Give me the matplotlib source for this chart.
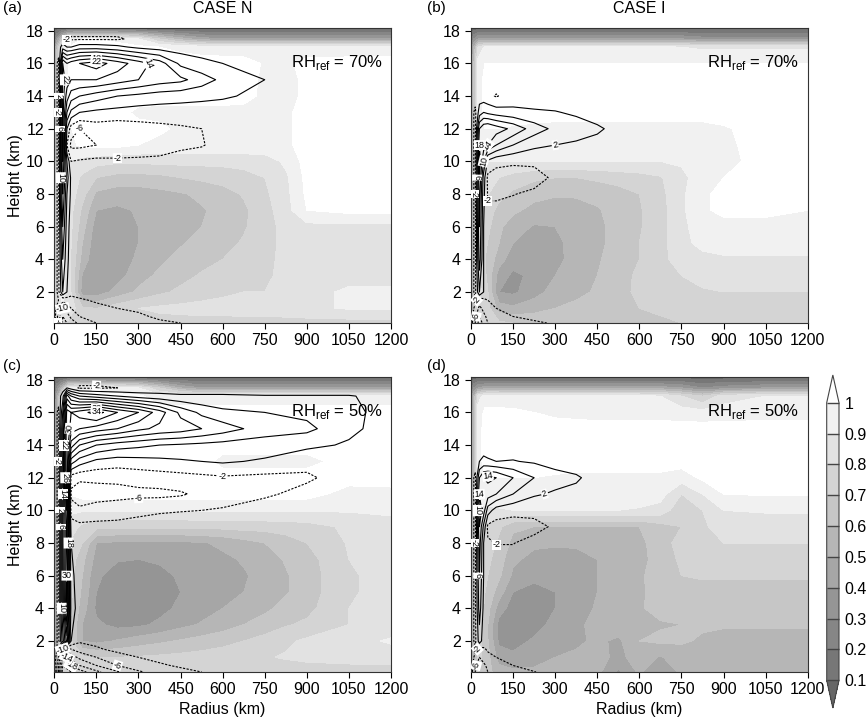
import numpy as np
import matplotlib
matplotlib.use('Agg')
import matplotlib.pyplot as plt

plt.rcParams['font.family'] = ['Liberation Sans', 'DejaVu Sans']
plt.rcParams['lines.dashed_pattern'] = [2.0, 1.3]

# ---- relative humidity (percent), rows = heights, cols = radii ----
r_rh = [0, 10, 25, 50, 100, 150, 225, 300, 375, 450, 525, 600, 675, 750, 825, 900, 1050, 1200]
z_rh = [0.1, 1, 2, 3, 4, 5, 6, 7, 8, 9, 10, 11, 12, 13, 14, 15, 16, 17, 17.5, 18.2]

rh_a = [
    [65, 72, 78, 78, 76, 76, 76, 76, 76, 76, 76, 76, 76, 76, 76, 76, 76, 76],
    [65, 75, 90, 88, 72, 70, 76, 80, 82, 83, 84, 84, 85, 85, 86, 88, 91, 91],
    [65, 75, 92, 88, 45, 44, 54, 62, 68, 72, 75, 78, 80, 80, 84, 88, 91, 91],
    [62, 75, 92, 86, 49, 42, 46, 56, 62, 67, 71, 74, 76, 78, 83, 87, 88, 88],
    [60, 75, 92, 85, 56, 42, 44, 52, 58, 63, 67, 70, 73, 77, 83, 86, 86, 86],
    [60, 75, 92, 85, 60, 43, 44, 50, 55, 59, 63, 67, 71, 76, 83, 86, 86, 86],
    [60, 75, 92, 86, 64, 45, 45, 50, 54, 57, 60, 64, 69, 75, 84, 87, 87, 87],
    [60, 75, 92, 86, 68, 50, 48, 51, 54, 56, 59, 63, 68, 76, 86, 100, 103, 103],
    [55, 75, 92, 87, 74, 58, 55, 55, 57, 59, 62, 66, 71, 78, 87, 102, 104, 104],
    [50, 75, 92, 88, 78, 70, 66, 66, 67, 70, 72, 74, 76, 80, 88, 103, 104, 104],
    [45, 70, 92, 90, 86, 84, 82, 82, 83, 83, 83, 83, 84, 85, 92, 104, 104, 104],
    [45, 65, 92, 97, 102, 103, 103, 100, 97, 97, 97, 97, 97, 97, 98, 104, 104, 104],
    [45, 65, 92, 99, 103, 104, 104, 103, 102, 98, 97, 97, 97, 97, 98, 104, 104, 104],
    [45, 65, 92, 100, 103, 103, 103, 98, 97, 97, 97, 97, 97, 97, 98, 104, 104, 104],
    [45, 65, 92, 100, 104, 104, 104, 104, 104, 104, 104, 104, 103, 98, 97, 102, 104, 104],
    [45, 65, 92, 100, 104, 104, 104, 104, 104, 104, 104, 104, 104, 98, 97, 102, 104, 104],
    [45, 65, 92, 100, 104, 104, 104, 104, 104, 104, 104, 104, 104, 99, 98, 103, 104, 104],
    [40, 60, 85, 100, 104, 104, 104, 102, 100, 98, 96, 95, 94, 94, 94, 94, 94, 94],
    [20, 35, 60, 95, 100, 100, 97, 90, 70, 55, 45, 40, 40, 40, 40, 40, 40, 40],
    [3, 3, 3, 3, 3, 3, 3, 3, 3, 3, 3, 3, 3, 3, 3, 3, 3, 3],
]

rh_b = [
    [45, 60, 75, 75, 72, 70, 68, 66, 65, 65, 66, 67, 68, 70, 72, 72, 74, 74],
    [45, 60, 80, 78, 55, 52, 56, 60, 62, 66, 68, 70, 72, 74, 75, 76, 76, 76],
    [45, 60, 82, 78, 40, 38, 46, 54, 58, 61, 67, 72, 75, 77, 79, 80, 80, 80],
    [45, 60, 82, 72, 45, 38, 42, 50, 56, 60, 66, 72, 76, 80, 83, 84, 84, 84],
    [45, 60, 82, 70, 55, 44, 42, 47, 54, 59, 64, 70, 76, 86, 88, 89, 89, 89],
    [45, 60, 82, 72, 60, 50, 46, 48, 53, 58, 63, 70, 76, 88, 92, 93, 93, 93],
    [45, 60, 82, 75, 62, 55, 49, 50, 54, 58, 63, 69, 76, 88, 94, 96, 96, 96],
    [45, 60, 82, 78, 66, 62, 57, 56, 57, 59, 64, 69, 76, 88, 98, 103, 103, 100],
    [45, 60, 82, 82, 74, 68, 63, 61, 61, 63, 66, 70, 77, 88, 98, 103, 104, 104],
    [45, 60, 85, 86, 80, 76, 72, 70, 70, 72, 74, 76, 79, 88, 94, 100, 104, 104],
    [45, 60, 88, 90, 90, 90, 90, 90, 90, 90, 90, 90, 90, 91, 93, 97, 104, 104],
    [45, 60, 90, 96, 97, 97, 96, 96, 96, 96, 96, 96, 96, 96, 96, 98, 104, 104],
    [45, 60, 92, 100, 100, 99, 98, 97, 97, 97, 97, 97, 97, 97, 97, 99, 104, 104],
    [45, 60, 95, 103, 104, 104, 104, 104, 104, 104, 104, 104, 104, 104, 104, 104, 104, 104],
    [45, 60, 95, 103, 104, 104, 104, 104, 104, 104, 104, 104, 104, 104, 104, 104, 104, 104],
    [45, 60, 95, 103, 104, 104, 104, 104, 104, 104, 104, 104, 104, 104, 104, 104, 104, 104],
    [45, 60, 95, 100, 100, 100, 100, 100, 100, 100, 100, 100, 100, 100, 100, 100, 100, 100],
    [35, 50, 80, 92, 92, 92, 92, 92, 92, 92, 92, 92, 92, 90, 88, 88, 88, 88],
    [20, 30, 40, 40, 40, 40, 40, 40, 40, 40, 40, 40, 40, 40, 35, 35, 35, 35],
    [3, 3, 3, 3, 3, 3, 3, 3, 3, 3, 3, 3, 3, 3, 3, 3, 3, 3],
]

rh_c = [
    [40, 50, 70, 74, 74, 74, 74, 74, 74, 74, 74, 74, 74, 74, 74, 74, 74, 74],
    [40, 50, 78, 80, 72, 70, 70, 71, 72, 73, 74, 75, 77, 79, 81, 83, 85, 86],
    [40, 50, 80, 76, 50, 47, 51, 55, 58, 61, 64, 67, 70, 74, 78, 82, 87, 91],
    [40, 50, 80, 74, 50, 42, 37, 38, 42, 47, 51, 55, 60, 64, 69, 72, 80, 86],
    [40, 50, 80, 74, 55, 38, 34, 34, 37, 42, 46, 50, 54, 58, 63, 67, 80, 84],
    [40, 50, 80, 75, 58, 40, 33, 33, 36, 40, 44, 47, 50, 54, 59, 65, 79, 83],
    [40, 50, 80, 76, 60, 42, 35, 35, 38, 41, 44, 46, 49, 53, 59, 65, 79, 83],
    [40, 50, 80, 78, 63, 46, 41, 40, 41, 43, 45, 48, 51, 55, 61, 66, 80, 84],
    [40, 50, 80, 80, 70, 50, 48, 48, 48, 48, 49, 52, 56, 60, 65, 70, 81, 85],
    [40, 50, 85, 85, 78, 73, 72, 72, 72, 72, 73, 73, 74, 74, 75, 76, 82, 86],
    [40, 50, 90, 92, 91, 91, 91, 91, 91, 91, 91, 91, 91, 91, 91, 91, 91, 92],
    [35, 50, 85, 100, 104, 104, 104, 104, 104, 104, 104, 104, 104, 104, 104, 104, 96, 97],
    [35, 50, 85, 100, 104, 104, 104, 104, 104, 104, 104, 104, 104, 104, 104, 104, 104, 104],
    [35, 50, 85, 100, 104, 104, 104, 104, 104, 104, 104, 97, 97, 97, 97, 97, 104, 104],
    [35, 50, 85, 100, 104, 104, 104, 104, 104, 104, 104, 104, 104, 104, 104, 104, 104, 104],
    [35, 50, 85, 100, 104, 104, 104, 104, 104, 104, 104, 104, 104, 104, 104, 104, 104, 104],
    [35, 50, 85, 100, 104, 104, 104, 104, 104, 104, 104, 104, 104, 104, 104, 104, 104, 104],
    [30, 45, 80, 100, 102, 102, 102, 102, 95, 95, 95, 95, 95, 95, 95, 95, 95, 95],
    [20, 30, 50, 90, 98, 98, 95, 90, 70, 50, 40, 40, 40, 40, 40, 40, 40, 40],
    [3, 3, 3, 3, 3, 3, 3, 3, 3, 3, 3, 3, 3, 3, 3, 3, 3, 3],
]

rh_d = [
    [40, 55, 70, 65, 55, 52, 52, 53, 54, 53, 38, 52, 39, 53, 55, 56, 56, 56],
    [40, 55, 72, 68, 45, 43, 46, 50, 52, 54, 47, 55, 49, 56, 56, 57, 57, 57],
    [40, 55, 75, 66, 38, 35, 42, 46, 48, 52, 48, 60, 62, 61, 59, 57, 57, 57],
    [40, 55, 78, 66, 36, 33, 35, 44, 48, 53, 56, 59, 59, 60, 61, 61, 61, 61],
    [40, 55, 78, 68, 45, 35, 33, 40, 46, 51, 56, 59, 63, 64, 64, 64, 64, 64],
    [40, 55, 78, 70, 55, 40, 35, 40, 45, 50, 55, 58, 65, 66, 67, 67, 67, 67],
    [40, 55, 78, 72, 62, 48, 44, 45, 47, 50, 55, 58, 66, 70, 71, 71, 71, 71],
    [40, 55, 78, 74, 65, 52, 47, 47, 48, 50, 54, 57, 64, 72, 74, 74, 74, 74],
    [40, 55, 80, 76, 68, 57, 52, 51, 51, 52, 55, 58, 64, 75, 79, 80, 80, 80],
    [40, 55, 82, 78, 72, 62, 60, 60, 60, 60, 60, 60, 66, 70, 78, 85, 85, 85],
    [40, 55, 88, 88, 89, 90, 90, 90, 90, 90, 90, 89, 86, 73, 80, 90, 91, 91],
    [40, 55, 92, 95, 96, 96, 96, 96, 96, 96, 95, 95, 94, 80, 90, 100, 101, 101],
    [40, 55, 95, 100, 100, 100, 100, 99, 98, 98, 98, 98, 98, 95, 102, 104, 104, 104],
    [40, 55, 95, 104, 104, 104, 104, 104, 104, 104, 104, 104, 104, 104, 104, 104, 104, 104],
    [40, 55, 95, 104, 104, 104, 104, 104, 104, 104, 104, 104, 104, 104, 104, 104, 104, 104],
    [40, 55, 95, 104, 104, 104, 104, 104, 104, 104, 104, 104, 104, 104, 104, 104, 104, 104],
    [40, 55, 95, 102, 102, 102, 100, 98, 97, 96, 96, 96, 96, 95, 94, 95, 96, 96],
    [35, 50, 85, 95, 95, 94, 93, 92, 92, 92, 92, 92, 90, 80, 70, 85, 90, 90],
    [20, 30, 40, 45, 45, 45, 45, 45, 45, 45, 45, 45, 45, 40, 30, 35, 40, 40],
    [3, 3, 3, 3, 3, 3, 3, 3, 3, 3, 3, 3, 3, 3, 3, 3, 3, 3],
]

# ---- radial wind (m/s), rows = heights, cols = radii ----
r_u = [0, 15, 30, 45, 60, 90, 150, 225, 300, 375, 450, 525, 600, 750, 900, 1050, 1200]
z_u = [0.1, 0.5, 1, 1.5, 2, 4, 6, 8, 9, 10, 11, 12, 13, 14, 15, 16, 17, 17.5, 18.2]

u_a = [
    [0, -8, -16, -14, -12, -9, -6, -4, -3, -2.5, -2, -1.5, -1, -0.5, 0, 0, 0],
    [0, -8, -14, -12, -9, -6, -4, -3, -2.5, -1.5, -1, -0.5, 0, 0, 0, 0, 0],
    [0, -5, -10, -8, -6, -4, -3, -2, -1.5, -0.5, 0, 0, 0, 0, 0, 0, 0],
    [0, -2, -5, -4, -3, -2.5, -1.5, -0.5, 0, 0, 0, 0, 0, 0, 0, 0, 0],
    [0, -3, 6, 2, -1, -0.5, 0, 0, 0, 0, 0, 0, 0, 0, 0, 0, 0],
    [0, -3, 10, 3, 0, 0, 0, 0, 0, 0, 0, 0, 0, 0, 0, 0, 0],
    [0, -3, 14, 4, 0, 0, 0, 0, 0, 0, 0, 0, 0, 0, 0, 0, 0],
    [0, -3, 18, 6, 1, 0, 0, 0, 0, 0, 0, 0, 0, 0, 0, 0, 0],
    [0, -3, 20, 8, 1, 0, 0, 0, 0, 0, 0, 0, 0, 0, 0, 0, 0],
    [0, -3, 22, 6, -2, -1.5, -1, -1.5, -1.5, -1.5, -1, -0.5, 0, 0, 0, 0, 0],
    [0, -3, 24, -2, -7, -7, -6, -4, -3.5, -3, -2.5, -2.2, -1, 0, 0, 0, 0],
    [0, -3, 24, 2, -4, -6, -4, -4.5, -3.5, -3, -2.5, -2, -1, 0, 0, 0, 0],
    [0, -3, 24, 10, 5, 2, 1, 0.5, 0, 0, 0, 0, 0, 0, 0, 0, 0],
    [0, -3, 24, 16, 12, 10, 8, 6, 5, 4, 3.5, 3, 2.5, 1, 0, 0, 0],
    [0, -3, 24, 20, 18, 18, 18, 16, 14, 12, 11, 8, 5, 2, 0, 0, 0],
    [0, -3, 22, 18, 20, 22, 24, 20, 16, 12, 5, 3, 2, 1, 0, 0, 0],
    [0, 0, 4, 2, 2, 4, 4, 3, 1, 0, 0, 0, 0, 0, 0, 0, 0],
    [0, 0, -1, -2.5, -2.5, -2.5, -2.5, -2.5, -1, 0, 0, 0, 0, 0, 0, 0, 0],
    [0, 0, 0, 0, 0, 0, 0, 0, 0, 0, 0, 0, 0, 0, 0, 0, 0],
]

u_b = [
    [0, -6, -12, -9, -6, -4, -3, -2.3, -1.8, -1, -0.5, 0, 0, 0, 0, 0, 0],
    [0, -5, -10, -7, -5, -3, -2, -1.5, -1, -0.5, 0, 0, 0, 0, 0, 0, 0],
    [0, -3, -7, -5, -3, -2, -1.5, -1, -0.5, 0, 0, 0, 0, 0, 0, 0, 0],
    [0, -1, -4, -3, -2, -1, -0.5, 0, 0, 0, 0, 0, 0, 0, 0, 0, 0],
    [0, -3, 6, 2, -0.5, 0, 0, 0, 0, 0, 0, 0, 0, 0, 0, 0, 0],
    [0, -3, 12, 2, 0, 0, 0, 0, 0, 0, 0, 0, 0, 0, 0, 0, 0],
    [0, -3, 14, 2, -0.5, -0.5, 0, 0, 0, 0, 0, 0, 0, 0, 0, 0, 0],
    [0, -3, 16, 3, -2.4, -2.4, -2.1, -1.5, -0.5, 0, 0, 0, 0, 0, 0, 0, 0],
    [0, -3, 18, 4, -3, -3.5, -3.5, -3, -1.5, 0, 0, 0, 0, 0, 0, 0, 0],
    [0, -3, 20, 10, 1, -1, -1.5, -1.5, -0.5, 0, 0, 0, 0, 0, 0, 0, 0],
    [0, -3, 18, 16, 14, 10, 6, 3, 2, 1.5, 1, 0, 0, 0, 0, 0, 0],
    [0, -3, 14, 17, 18, 16, 13, 8, 5, 3.5, 2.5, 1, 0, 0, 0, 0, 0],
    [0, -3, 4, 6, 5, 4, 3, 2.5, 2.2, 1.5, 0.5, 0, 0, 0, 0, 0, 0],
    [0, 0, 0, -0.5, -1, -2.3, 0, 0, 0, 0, 0, 0, 0, 0, 0, 0, 0],
    [0, 0, 0, 0, 0, 0, 0, 0, 0, 0, 0, 0, 0, 0, 0, 0, 0],
    [0, 0, 0, 0, 0, 0, 0, 0, 0, 0, 0, 0, 0, 0, 0, 0, 0],
    [0, 0, 0, 0, 0, 0, 0, 0, 0, 0, 0, 0, 0, 0, 0, 0, 0],
    [0, 0, 0, 0, 0, 0, 0, 0, 0, 0, 0, 0, 0, 0, 0, 0, 0],
    [0, 0, 0, 0, 0, 0, 0, 0, 0, 0, 0, 0, 0, 0, 0, 0, 0],
]

u_c = [
    [0, -10, -24, -24, -22, -20, -15, -10.5, -6.5, -4.5, -3, -2, -1.5, -0.5, 0, 0, 0],
    [0, -10, -22, -20, -18, -14, -10, -6, -4, -2.5, -1.5, -1, -0.5, 0, 0, 0, 0],
    [0, -6, -16, -14, -12, -9, -6, -3.5, -2, -1, -0.5, 0, 0, 0, 0, 0, 0],
    [0, -3, -10, -8, -6, -4, -2.5, -1, -0.5, 0, 0, 0, 0, 0, 0, 0, 0],
    [0, -3, 8, 20, 2, -1.5, -1, 0, 0, 0, 0, 0, 0, 0, 0, 0, 0],
    [0, -3, 14, 32, 4, 0, 0, 0, 0, 0, 0, 0, 0, 0, 0, 0, 0],
    [0, -3, 14, 30, 3, 0, 0, 0, 0, 0, 0, 0, 0, 0, 0, 0, 0],
    [0, -3, 14, 28, 2, 0, 0, 0, 0, 0, 0, 0, 0, 0, 0, 0, 0],
    [0, -3, 14, 28, 0, -1, -1, -1, -0.5, 0, 0, 0, 0, 0, 0, 0, 0],
    [0, -3, 14, 30, -4, -5, -4, -3.5, -3, -2.5, -2.2, -2, -1.8, -0.5, 0, 0, 0],
    [0, -3, 14, 32, -7, -9, -8, -7.5, -7, -7, -6.5, -5, -3, -2.5, -1, 0, 0],
    [0, -3, 14, 34, -4, -5, -5, -5, -4.5, -4, -3.5, -3, -2.5, -3, -2.5, -0.5, 0],
    [0, -3, 14, 34, 8, 4, 1, 0, 0.5, 1, 1.5, 2, 2.5, 1.5, -1, 0, 0],
    [0, -3, 14, 34, 20, 14, 10, 8, 7, 6, 5.5, 5, 4.5, 4, 3, 1.5, 0],
    [0, -3, 14, 34, 28, 26, 24, 22, 19, 17, 16, 14, 12, 8, 7, 3, 0],
    [0, -3, 10, 32, 30, 32, 36, 30, 26, 20, 13, 9, 7, 6, 5, 3, 0.5],
    [0, 0, 4, 20, 14, 10, 8, 6, 4, 3, 2.5, 2.5, 2.5, 2.2, 2.2, 2.2, 1],
    [0, 0, 0, 2, 0, -2.5, -2.5, -2, -1, 0, 0, 0, 0, 0, 0, 0, 0],
    [0, 0, 0, 0, 0, 0, 0, 0, 0, 0, 0, 0, 0, 0, 0, 0, 0],
]

u_d = [
    [0, -6, -10, -8, -6, -4, -3, -2.1, -1, -0.5, 0, 0, 0, 0, 0, 0, 0],
    [0, -5, -9, -7, -5, -3, -2, -1, -0.5, 0, 0, 0, 0, 0, 0, 0, 0],
    [0, -3, -6, -4, -3, -2, -1, -0.5, 0, 0, 0, 0, 0, 0, 0, 0, 0],
    [0, -1, -3, -2.5, -1.5, -1, 0, 0, 0, 0, 0, 0, 0, 0, 0, 0, 0],
    [0, -3, 4, 0, 0, 0, 0, 0, 0, 0, 0, 0, 0, 0, 0, 0, 0],
    [0, -3, 8, 1, 0, 0, 0, 0, 0, 0, 0, 0, 0, 0, 0, 0, 0],
    [0, -3, 10, 2, 0, 0, 0, 0, 0, 0, 0, 0, 0, 0, 0, 0, 0],
    [0, -3, 12, 2, -1.5, -2.1, -2.1, -1, 0, 0, 0, 0, 0, 0, 0, 0, 0],
    [0, -3, 14, 5, -3, -3.5, -3.5, -3, -1.5, 0, 0, 0, 0, 0, 0, 0, 0],
    [0, -3, 16, 12, 4, 0, -1, -1, 0, 0, 0, 0, 0, 0, 0, 0, 0],
    [0, -3, 14, 14, 12, 10, 6, 2.5, 1.5, 1, 0, 0, 0, 0, 0, 0, 0],
    [0, -3, 10, 14, 15, 14, 10, 6, 3.5, 2.5, 0.5, 0, 0, 0, 0, 0, 0],
    [0, 0, 2, 3, 2.5, 2, 2.2, 1.5, 0.5, 0, 0, 0, 0, 0, 0, 0, 0],
    [0, 0, 0, 0, 0, 0, 0, 0, 0, 0, 0, 0, 0, 0, 0, 0, 0],
    [0, 0, 0, 0, 0, 0, 0, 0, 0, 0, 0, 0, 0, 0, 0, 0, 0],
    [0, 0, 0, 0, 0, 0, 0, 0, 0, 0, 0, 0, 0, 0, 0, 0, 0],
    [0, 0, 0, 0, 0, 0, 0, 0, 0, 0, 0, 0, 0, 0, 0, 0, 0],
    [0, 0, 0, 0, 0, 0, 0, 0, 0, 0, 0, 0, 0, 0, 0, 0, 0],
    [0, 0, 0, 0, 0, 0, 0, 0, 0, 0, 0, 0, 0, 0, 0, 0, 0],
]

panel_tags = ['(a)', '(b)', '(c)', '(d)']
case_titles = ['CASE N', 'CASE I', '', '']
rh_ref = ['70%', '70%', '50%', '50%']
rh_levels = [0.1, 0.2, 0.3, 0.4, 0.5, 0.6, 0.7, 0.8, 0.9, 1.0]
u_levels = [-30, -26, -22, -18, -14, -10, -6, -2, 2, 6, 10, 14, 18, 22, 26, 30, 34]
grays = ['#666666', '#777777', '#868686', '#959595', '#a6a6a6', '#b6b6b6',
         '#c6c6c6', '#d4d4d4', '#e2e2e2', '#f1f1f1', '#ffffff']

fig = plt.figure(figsize=(8.68, 7.23), dpi=100)
W, H = 868.0, 723.0
boxes = [(54.3, 28.3), (471, 28.3), (54.3, 377.3), (471, 377.3)]  # left, top in px
aw, ah = 336.7, 294.7

rh_all = [rh_a, rh_b, rh_c, rh_d]
u_all = [u_a, u_b, u_c, u_d]

for i in range(4):
    x0, y0 = boxes[i]
    ax = fig.add_axes([x0 / W, 1 - (y0 + ah) / H, aw / W, ah / H])
    rh = np.array(rh_all[i]) / 100.0
    cf = ax.contourf(r_rh, z_rh, rh, levels=rh_levels, colors=grays, extend='both')
    u = np.array(u_all[i])
    styles = ['dashed' if v < 0 else 'solid' for v in u_levels]
    cs = ax.contour(r_u, z_u, u, levels=u_levels, colors='k',
                    linewidths=0.8, linestyles=styles)
    labs = ax.clabel(cs, fmt='%d', fontsize=6.5, inline=True, inline_spacing=1)
    for t in labs:
        t.set_bbox(dict(boxstyle='square,pad=0.05', fc='white', ec='none'))

    ax.set_xlim(0, 1200)
    ax.set_ylim(0.1, 18.15)
    ax.set_xticks(np.arange(0, 1201, 150))
    ax.set_yticks(np.arange(2, 19, 2))
    ax.tick_params(direction='out', length=4, width=0.8, labelsize=11.5,
                   top=False, right=False)
    for s in ax.spines.values():
        s.set_linewidth(0.8)
        s.set_color('#333333')
    if i in (0, 2):
        ax.set_ylabel('Height (km)', fontsize=11.5, labelpad=2)
    if i in (2, 3):
        ax.set_xlabel('Radius (km)', fontsize=11.5, labelpad=3)
    if case_titles[i]:
        ax.set_title(case_titles[i], fontsize=11.5, pad=11)
    ax.text(0.975, 0.885, r'RH$_{\mathregular{ref}}$ = ' + rh_ref[i],
            transform=ax.transAxes, ha='right', va='center', fontsize=12,
            zorder=1.5)
    tx = 0.003 if i in (0, 2) else 0.492
    ty = 0.998 if i < 2 else 0.503
    fig.text(tx, ty, panel_tags[i], ha='left', va='top', fontsize=11)

cax = fig.add_axes([826.7 / W, 1 - 708 / H, 12.3 / W, 333 / H])
cb = fig.colorbar(cf, cax=cax, ticks=rh_levels, drawedges=True, extendfrac=0.1)
cb.ax.set_yticklabels(['0.1', '0.2', '0.3', '0.4', '0.5', '0.6', '0.7', '0.8', '0.9', '1'])
cb.ax.tick_params(length=0, labelsize=11.5, pad=4)
cb.outline.set_edgecolor('#444444')
cb.outline.set_linewidth(0.8)
cb.dividers.set_color('#444444')
cb.dividers.set_linewidth(1.0)

fig.savefig('out.png', dpi=100)
